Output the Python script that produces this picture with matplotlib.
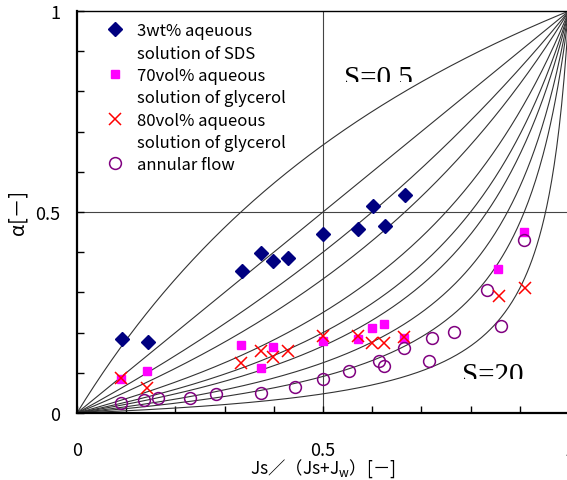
import numpy as np
import matplotlib
matplotlib.use('Agg')
import matplotlib.pyplot as plt
from matplotlib.lines import Line2D
from matplotlib.transforms import Bbox, TransformedBbox

plt.rcParams['font.family'] = ['Noto Sans CJK JP', 'DejaVu Sans']
plt.rcParams['mathtext.default'] = 'regular'

# slip ratio curves  alpha = beta / (beta + S (1 - beta))
slip_ratios = [0.5, 1, 1.5, 2, 3, 4, 5, 7, 10, 20]

# 3wt% SDS solution
sds_beta = [0.091, 0.144, 0.335, 0.374, 0.399, 0.428, 0.501, 0.572, 0.602, 0.626, 0.667]
sds_alpha = [0.184, 0.176, 0.352, 0.397, 0.379, 0.386, 0.444, 0.458, 0.514, 0.466, 0.542]

# 70vol% glycerol
g70_beta = [0.089, 0.143, 0.333, 0.374, 0.398, 0.501, 0.572, 0.600, 0.624, 0.665, 0.856, 0.909]
g70_alpha = [0.085, 0.104, 0.169, 0.111, 0.165, 0.179, 0.184, 0.211, 0.221, 0.186, 0.357, 0.449]

# 80vol% glycerol
g80_beta = [0.089, 0.143, 0.333, 0.374, 0.399, 0.428, 0.501, 0.572, 0.600, 0.625, 0.665, 0.858, 0.911]
g80_alpha = [0.087, 0.062, 0.124, 0.155, 0.140, 0.155, 0.192, 0.191, 0.174, 0.174, 0.188, 0.292, 0.310]

# annular flow
ann_beta = [0.089, 0.136, 0.165, 0.230, 0.283, 0.374, 0.444, 0.501, 0.553, 0.614,
            0.624, 0.665, 0.715, 0.721, 0.767, 0.833, 0.861, 0.909]
ann_alpha = [0.025, 0.032, 0.037, 0.037, 0.047, 0.050, 0.064, 0.085, 0.104, 0.129,
             0.118, 0.161, 0.129, 0.186, 0.201, 0.306, 0.216, 0.431]

fig = plt.figure(figsize=(5.67, 4.81), dpi=100)
ax = fig.add_axes([0.1358, 0.1393, 0.8677, 0.8358])

beta = np.linspace(0, 1, 400)
for s in slip_ratios:
    ax.plot(beta, beta / (beta + s * (1 - beta)), color='#333333', lw=0.8, zorder=2)

ax.axvline(0.5, color='#444444', lw=0.8, zorder=1)
ax.axhline(0.5, color='#444444', lw=0.8, zorder=1)

ax.plot(sds_beta, sds_alpha, 'D', color='#000080', ms=7.5, mec='#000080', zorder=4)
ax.plot(g70_beta, g70_alpha, 's', color='#FF00FF', ms=6, mec='#FF00FF', zorder=4)
ax.plot(g80_beta, g80_alpha, 'x', color='#FF0000', ms=9, mew=1.1, zorder=5)
ax.plot(ann_beta, ann_alpha, 'o', mfc='none', mec='#800080', ms=8.5, mew=1.1, zorder=4)

ax.set_xlim(0, 1)
ax.set_ylim(0, 1)
ax.set_xticks([0, 0.5, 1])
ax.set_xticklabels(['0', '0.5', '1'])
ax.set_yticks([0, 0.5, 1])
ax.set_yticklabels(['0', '0.5', '1'])
ax.set_xticks(np.arange(0.1, 1.0, 0.1), minor=True)
ax.set_yticks(np.arange(0.1, 1.0, 0.1), minor=True)
ax.tick_params(which='both', direction='in', length=5, width=1, labelsize=13)
ax.tick_params(axis='x', which='major', pad=20)
ax.tick_params(axis='y', which='major', pad=12)

for side in ['left', 'bottom']:
    ax.spines[side].set_linewidth(1.6)
ax.spines['top'].set_linewidth(1.0)
ax.spines['right'].set_linewidth(1.0)

ax.set_xlabel('Js／（Js+J$_w$）[－]', fontsize=12.5, labelpad=-2)
ax.set_ylabel('α[－]', fontsize=14, labelpad=5)

# slip ratio labels, clipped along the bottom edge
t1 = ax.text(0.543, 0.816, 'S=0.5', family='Liberation Serif', fontsize=21, va='baseline')
t1.set_clip_box(TransformedBbox(Bbox([[0.5, 0.823], [0.9, 0.95]]), ax.transData))
t1.set_clip_on(True)
t2 = ax.text(0.7825, 0.078, 'S=20', family='Liberation Serif', fontsize=21, va='baseline')
t2.set_clip_box(TransformedBbox(Bbox([[0.7, 0.0846], [0.99, 0.2]]), ax.transData))
t2.set_clip_on(True)

blank = Line2D([], [], linestyle='none')
handles = [
    Line2D([], [], linestyle='none', marker='D', color='#000080', ms=7.5),
    blank,
    Line2D([], [], linestyle='none', marker='s', color='#FF00FF', ms=6),
    blank,
    Line2D([], [], linestyle='none', marker='x', color='#FF0000', ms=9, mew=1.1),
    blank,
    Line2D([], [], linestyle='none', marker='o', mfc='none', mec='#800080', ms=8.5, mew=1.1),
]
labels = ['3wt% aqeuous', 'solution of SDS', '70vol% aqueous', 'solution of glycerol',
          '80vol% aqueous', 'solution of glycerol', 'annular flow']
ax.legend(handles, labels, loc='upper left', bbox_to_anchor=(0.052, 0.972), frameon=False,
          fontsize=12, handlelength=1.5, handletextpad=0.55, labelspacing=0.32,
          borderpad=0, borderaxespad=0)

fig.savefig('out.png', dpi=100)
